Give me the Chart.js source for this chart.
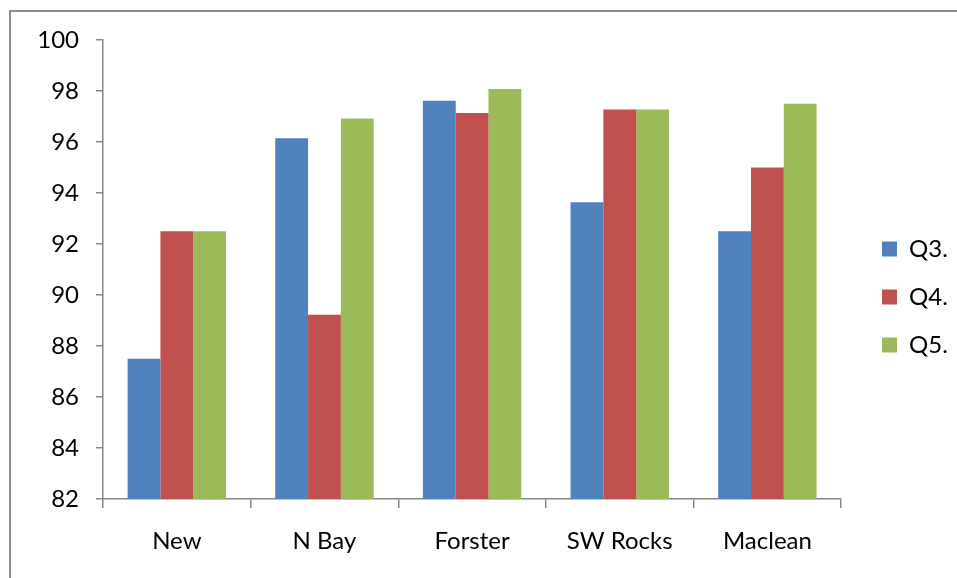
<!DOCTYPE html>
<html>
<head>
<meta charset="utf-8">
<script src="https://cdn.jsdelivr.net/npm/chart.js@4"></script>
<style>
  html, body { margin: 0; padding: 0; background: #fff; }
  #wrap { position: relative; width: 957px; height: 578px; overflow: hidden; }
  #frame { position: absolute; left: 9px; top: 10px; width: 1000px; height: 600px;
           border-left: 2px solid #8c8c8c; border-top: 2px solid #8c8c8c; box-sizing: border-box; }
  canvas { position: absolute; left: 0; top: 0; }
</style>
</head>
<body>
<div id="wrap">
  <div id="frame"></div>
  <canvas id="c" width="957" height="578"></canvas>
</div>
<script>
// Survey sites and the score per question
const categories = ['New', 'N Bay', 'Forster', 'SW Rocks', 'Maclean'];
const q3 = [87.5, 96.15, 97.62, 93.64, 92.5];
const q4 = [92.5, 89.23, 97.14, 97.27, 95.0];
const q5 = [92.5, 96.92, 98.08, 97.27, 97.5];
const seriesNames = ['Q3.', 'Q4.', 'Q5.'];
const yMin = 82, yMax = 100, yStep = 2;

const colors = ['#4F81BD', '#C0504D', '#9BBB59'];
const axisColor = '#868686';
const fontFamily = 'Lato, "Open Sans", sans-serif';
const fontSize = 24;

// Move the legend block to sit a little right of the plot, vertically centred on it
const legendPlacer = {
  id: 'legendPlacer',
  afterLayout(chart) {
    const lg = chart.legend;
    if (!lg) return;
    const w = lg.width;
    lg.left = 858; lg.right = 858 + w;
    lg.top = 210; lg.bottom = 384; lg.height = 174;
  }
};

new Chart(document.getElementById('c'), {
  type: 'bar',
  data: {
    labels: categories,
    datasets: [q3, q4, q5].map((d, i) => ({
      label: seriesNames[i],
      data: d,
      backgroundColor: colors[i],
      borderWidth: 0,
      categoryPercentage: 3 / 4.5,
      barPercentage: 1.0
    }))
  },
  options: {
    responsive: false,
    animation: false,
    layout: { padding: { left: 20, top: 40, right: 16, bottom: 0 } },
    plugins: {
      tooltip: { enabled: false },
      legend: {
        position: 'right',
        labels: {
          boxWidth: 15, boxHeight: 15, padding: 24,
          color: '#000',
          font: { family: fontFamily, size: fontSize }
        }
      }
    },
    scales: {
      x: {
        grid: { display: true, drawOnChartArea: false, drawTicks: true, tickLength: 9, color: axisColor, lineWidth: 1.5, offset: true },
        border: { display: true, color: axisColor, width: 1.5 },
        ticks: { color: '#000', font: { family: fontFamily, size: fontSize }, padding: 19, maxRotation: 0 },
        afterFit(scale) { scale.height = 578 - 499; }
      },
      y: {
        min: yMin, max: yMax,
        grid: { display: true, drawOnChartArea: false, drawTicks: true, tickLength: 7, color: axisColor, lineWidth: 1.5 },
        border: { display: true, color: axisColor, width: 1.5 },
        ticks: { stepSize: yStep, color: '#000', font: { family: fontFamily, size: fontSize }, padding: 17 },
        afterFit(scale) { scale.width = 83; }
      }
    }
  },
  plugins: [legendPlacer]
});
</script>
</body>
</html>
